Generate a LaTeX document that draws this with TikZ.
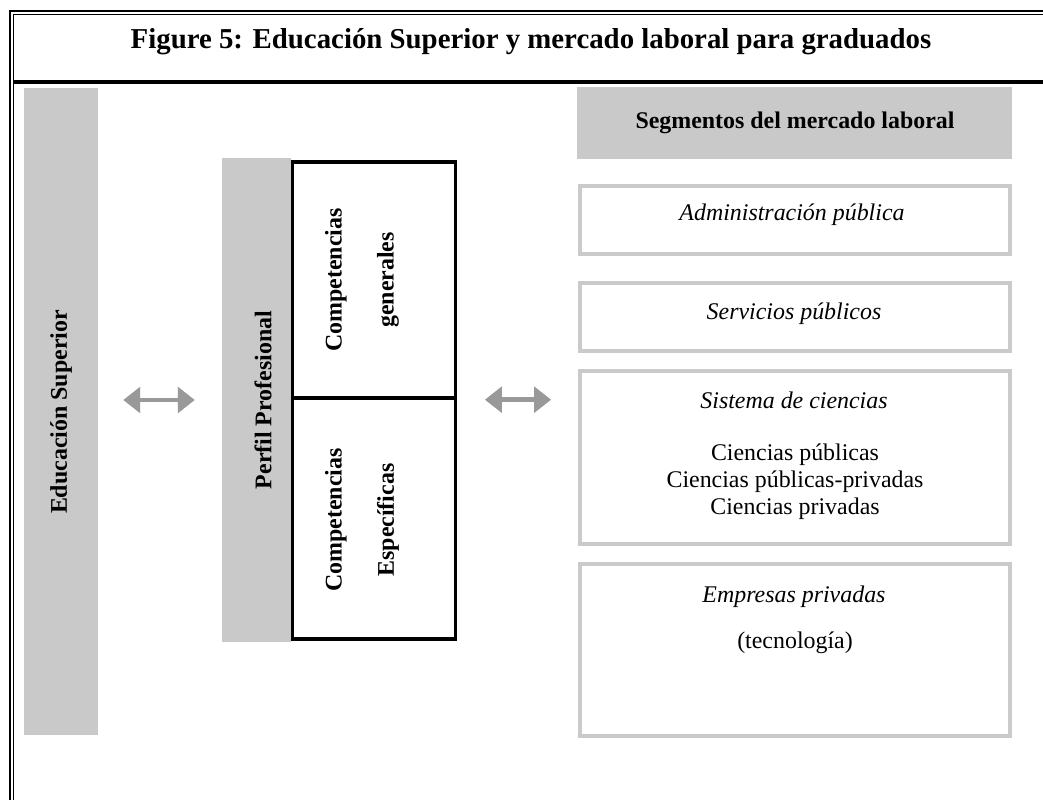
\documentclass[tikz,border=0pt]{standalone}
\usepackage{fontspec}
\setmainfont{Liberation Serif}
\usetikzlibrary{arrows.meta,fit,positioning}

\definecolor{bargray}{HTML}{C9C9C9}
\definecolor{boxgray}{HTML}{CACACA}
\definecolor{arrowgray}{HTML}{999999}

\tikzset{
  graybar/.style={fill=bargray, inner sep=0pt},
  segbox/.style={draw=boxgray, line width=2.8pt, inner sep=0pt},
  compbox/.style={draw=black, line width=2.4pt, inner sep=0pt},
  vlabel/.style={rotate=90, align=center, font=\bfseries\fontsize{17}{37}\selectfont},
  seglabel/.style={anchor=base, font=\fontsize{17}{19.2}\selectfont},
  dblarrow/.style={arrowgray, line width=3.4pt,
    {Triangle[length=12pt,width=18pt]}-{Triangle[length=12pt,width=18pt]}},
  arrowshadow/.style={dblarrow, draw=black!30, opacity=0.45, xshift=1.5pt, yshift=-2.6pt}
}

\begin{document}
\begin{tikzpicture}[x=0.025cm, y=-0.025cm]
  \useasboundingbox (0,0) rectangle (1043,800);
  \clip (0,0) rectangle (1043,800);

  % frame
  \draw[line width=1.4pt] (10,800) -- (10,11) -- (1043,11);
  \draw[line width=0.75pt] (13.5,800) -- (13.5,14.5) -- (1043,14.5);
  \draw[line width=2.9pt] (13.5,82) -- (1043,82);
  \node[anchor=base, font=\bfseries\fontsize{20.5}{24}\selectfont] (title) at (531,49)
    {Figure 5: Educación Superior y mercado laboral para graduados};

  % left part
  \node[graybar, fit={(24,88) (98,735)}] (edu) {};
  \node[vlabel] (edulbl) at (61,412) {Educación Superior};
  \node[graybar, fit={(222,158) (291,642)}] (perfil) {};
  \node[vlabel] (perfillbl) at (263,400) {Perfil Profesional};
  \node[compbox, fit={(292.7,162) (455.3,398)}] (compgen) {};
  \node[compbox, fit={(292.7,398) (455.3,639)}] (compesp) {};
  \node[vlabel] (compgenlbl) at (362,280) {Competencias\\generales};
  \node[vlabel] (compesplbl) at (362,520) {Competencias\\Específicas};

  % right part
  \node[graybar, fit={(577,87) (1012,159)}] (seg) {};
  \node[seglabel, font=\bfseries\fontsize{17}{19.2}\selectfont] (seglbl) at (795,129)
    {Segmentos del mercado laboral};
  \node[segbox, fit={(580,186.3) (1010,253.7)}] (adm) {};
  \node[seglabel] (admlbl) at (792,221) {\itshape Administración pública};
  \node[segbox, fit={(580,283) (1010,351)}] (serv) {};
  \node[seglabel] (servlbl) at (794,319) {\itshape Servicios públicos};
  \node[segbox, fit={(580,371) (1010,544)}] (sis) {};
  \node[seglabel] (sislbl) at (794,408) {\itshape Sistema de ciencias};
  \foreach \t [count=\i] in {Ciencias públicas, Ciencias públicas-privadas, Ciencias privadas}
    \node[seglabel] (sis\i) at (795,433+27*\i) {\t};
  \node[segbox, fit={(580,564) (1010,736)}] (emp) {};
  \node[seglabel] (emplbl) at (794,602) {\itshape Empresas privadas};
  \node[seglabel] (emptec) at (795,648) {(tecnología)};

  % arrows
  \draw[arrowshadow, shorten <=17.8pt, shorten >=19.2pt] (perfil.west -| edu.east) -- (perfil.west);
  \draw[dblarrow, shorten <=17.8pt, shorten >=19.2pt] (perfil.west -| edu.east) -- (perfil.west);
  \draw[arrowshadow, shorten <=19.9pt, shorten >=19.2pt] (compgen.south east) -- (compgen.south east -| sis.west);
  \draw[dblarrow, shorten <=19.9pt, shorten >=19.2pt] (compgen.south east) -- (compgen.south east -| sis.west);
\end{tikzpicture}
\end{document}
